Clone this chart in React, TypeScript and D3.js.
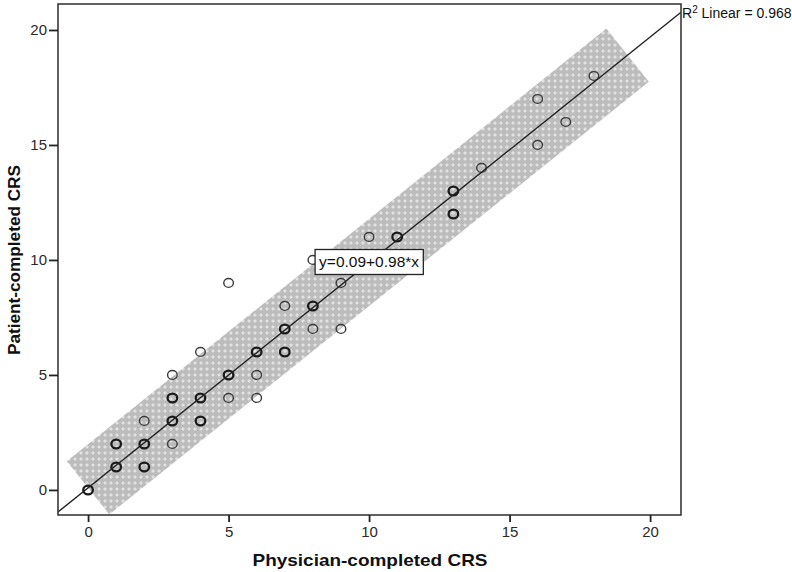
import React, { useEffect, useRef } from "react";
import * as d3 from "d3";

// observed score pairs; overlap = how many patients sit on the same spot
const physicianScores = [0, 1, 1, 2, 2, 2, 3, 3, 3, 3, 4, 4, 4, 5, 5, 5, 6, 6, 6, 7, 7, 7, 8, 8, 8, 9, 9, 10, 11, 13, 13, 14, 16, 16, 17, 18];
const patientScores = [0, 1, 2, 1, 2, 3, 2, 3, 4, 5, 3, 4, 6, 4, 5, 9, 4, 5, 6, 6, 7, 8, 7, 8, 10, 7, 9, 11, 11, 12, 13, 14, 15, 17, 16, 18];
const overlap = [3, 3, 3, 3, 3, 1, 1, 3, 3, 1, 3, 3, 1, 1, 3, 1, 1, 1, 3, 3, 3, 1, 1, 3, 1, 1, 1, 1, 3, 3, 3, 1, 1, 1, 1, 1];

const axisTicks = [0, 5, 10, 15, 20];
const intercept = 0.09;
const slope = 0.98;
const rSquared = "0.968";
const bandRange = [0, 19.2];
const labelAt = 10;

const W = 792;
const H = 572;

const App: React.FC = () => {
  const svgRef = useRef<SVGSVGElement | null>(null);

  useEffect(() => {
    if (!svgRef.current) return;
    const svg = d3.select(svgRef.current);
    svg.selectAll("*").remove();

    const x = d3.scaleLinear().domain([-1.07, 21.1]).range([58, 681]);
    const y = d3.scaleLinear().domain([-1.09, 21.13]).range([515, 4]);
    const fit = (v: number) => intercept + slope * v;
    const font = "'Liberation Sans', Arial, sans-serif";

    // dotted texture for the band
    const defs = svg.append("defs");
    const pat = defs
      .append("pattern")
      .attr("id", "dots")
      .attr("width", 6)
      .attr("height", 6)
      .attr("patternUnits", "userSpaceOnUse");
    pat.append("rect").attr("width", 6).attr("height", 6).attr("fill", "#bcbcbc");
    pat.append("rect").attr("x", 2).attr("y", 2).attr("width", 2).attr("height", 2).attr("fill", "#eeeeee");
    pat.append("rect").attr("x", 2.5).attr("y", 1).attr("width", 1).attr("height", 4).attr("fill", "#dedede");
    pat.append("rect").attr("x", 1).attr("y", 2.5).attr("width", 4).attr("height", 1).attr("fill", "#dedede");

    // band: rectangle around the fit line, built in pixel space
    const p0 = [x(bandRange[0]), y(fit(bandRange[0]))];
    const p1 = [x(bandRange[1]), y(fit(bandRange[1]))];
    const dx = p1[0] - p0[0];
    const dy = p1[1] - p0[1];
    const len = Math.hypot(dx, dy);
    const half = 34;
    const nx = (-dy / len) * half;
    const ny = (dx / len) * half;
    const corners: [number, number][] = [
      [p0[0] + nx, p0[1] + ny],
      [p1[0] + nx, p1[1] + ny],
      [p1[0] - nx, p1[1] - ny],
      [p0[0] - nx, p0[1] - ny],
    ];
    svg
      .append("path")
      .attr("d", d3.line()(corners) + "Z")
      .attr("fill", "url(#dots)");

    // points
    const pts = physicianScores.map((px, i) => ({ px, py: patientScores[i], n: overlap[i] }));
    svg
      .append("g")
      .selectAll("ellipse")
      .data(pts)
      .enter()
      .append("ellipse")
      .attr("cx", (d) => x(d.px))
      .attr("cy", (d) => y(d.py))
      .attr("rx", 4.8)
      .attr("ry", 4.4)
      .attr("fill", "none")
      .attr("stroke", (d) => (d.n > 1 ? "#1a1a1a" : "#3a3a3a"))
      .attr("stroke-width", (d) => (d.n > 1 ? 2.3 : 1.4));

    // fit line across the plot
    const [x0, x1] = x.domain();
    svg
      .append("line")
      .attr("x1", x(x0))
      .attr("y1", y(fit(x0)))
      .attr("x2", x(x1))
      .attr("y2", y(fit(x1)))
      .attr("stroke", "#222")
      .attr("stroke-width", 1.4);

    // frame
    svg
      .append("rect")
      .attr("x", 58)
      .attr("y", 4)
      .attr("width", 623)
      .attr("height", 511)
      .attr("fill", "none")
      .attr("stroke", "#3a3a3a")
      .attr("stroke-width", 1.6);

    // axes
    const xAxis = svg
      .append("g")
      .attr("transform", "translate(0,515)")
      .call(d3.axisBottom(x).tickValues(axisTicks).tickSize(7).tickPadding(4));
    const yAxis = svg
      .append("g")
      .attr("transform", "translate(58,0)")
      .call(d3.axisLeft(y).tickValues(axisTicks).tickSize(9).tickPadding(2));
    [xAxis, yAxis].forEach((g) => {
      g.select(".domain").remove();
      g.selectAll(".tick line").attr("stroke", "#222").attr("stroke-width", 1.8);
      g.selectAll(".tick text").attr("fill", "#2a2a2a").attr("font-family", font).attr("font-size", 15);
    });

    // equation label on a white box
    const lx = x(labelAt);
    const ly = y(fit(labelAt));
    const box = svg.append("rect");
    const eq = svg
      .append("text")
      .attr("x", lx)
      .attr("y", ly + 5)
      .attr("text-anchor", "middle")
      .attr("font-family", font)
      .attr("font-size", 15.5)
      .attr("fill", "#111")
      .text(`y=${intercept.toFixed(2)}+${slope.toFixed(2)}*x`);
    const bb = (eq.node() as SVGTextElement).getBBox();
    box
      .attr("x", bb.x - 4)
      .attr("y", ly - 13)
      .attr("width", bb.width + 8)
      .attr("height", 25)
      .attr("fill", "#fff")
      .attr("stroke", "#222")
      .attr("stroke-width", 1.3);

    // R squared label
    const r2 = svg
      .append("text")
      .attr("x", 682)
      .attr("y", 18)
      .attr("font-family", font)
      .attr("font-size", 14)
      .attr("fill", "#111");
    r2.append("tspan").text("R");
    r2.append("tspan").attr("font-size", 10).attr("dy", -5).text("2");
    r2.append("tspan").attr("dy", 5).text(` Linear = ${rSquared}`);

    // axis titles
    svg
      .append("text")
      .attr("x", 370)
      .attr("y", 566)
      .attr("text-anchor", "middle")
      .attr("font-family", font)
      .attr("font-weight", "bold")
      .attr("font-size", 17)
      .attr("fill", "#111")
      .attr("textLength", 235)
      .attr("lengthAdjust", "spacingAndGlyphs")
      .text("Physician-completed CRS");
    svg
      .append("text")
      .attr("transform", "translate(20,260) rotate(-90)")
      .attr("text-anchor", "middle")
      .attr("font-family", font)
      .attr("font-weight", "bold")
      .attr("font-size", 17)
      .attr("fill", "#111")
      .attr("textLength", 190)
      .attr("lengthAdjust", "spacingAndGlyphs")
      .text("Patient-completed CRS");
  }, []);

  return (
    <svg
      ref={svgRef}
      width={W}
      height={H}
      style={{ position: "absolute", left: 0, top: 0, background: "#fff" }}
    ></svg>
  );
};

export default App;
